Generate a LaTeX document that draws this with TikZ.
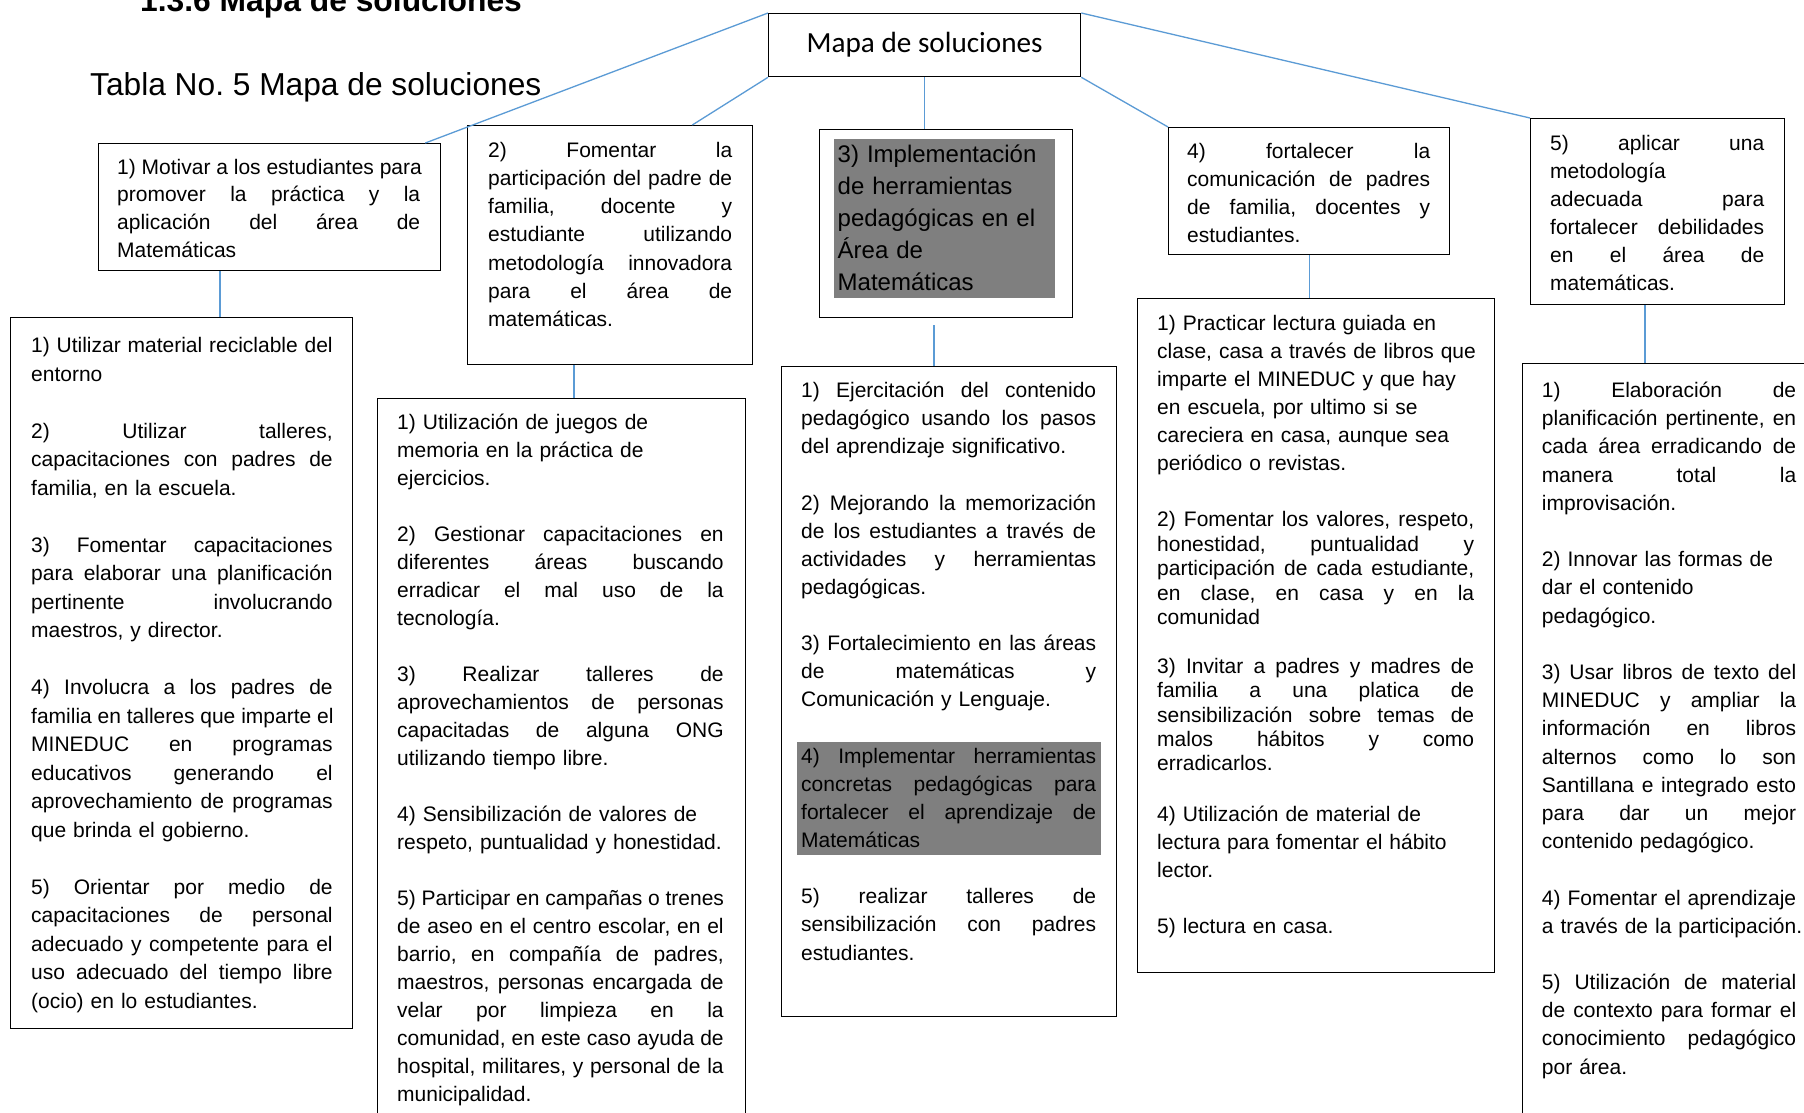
\documentclass[tikz,border=0pt]{standalone}
\usepackage{fontspec}
\setmainfont{Liberation Sans}
\newfontfamily\calibri{Carlito}
\usetikzlibrary{calc}
\definecolor{linkblue}{HTML}{5B9BD5}
\definecolor{hlgray}{HTML}{7F7F7F}
\hbadness=10000
\hfuzz=30pt
\frenchspacing
\newcommand\Lj[1]{\hbox to\hsize{\spaceskip=\fontdimen2\font plus 1fil\relax #1}\par}
\newcommand\Lr[1]{\hbox to\hsize{#1\hfil}\par}
\newcommand\Lb{\vskip\baselineskip}
\begin{document}
\begin{tikzpicture}[x=1pt,y=-1pt,
  frame/.style={draw=black,line width=1.3pt,rectangle,inner sep=0pt,anchor=north west},
  hl/.style={fill=hlgray,draw=none,rectangle,inner sep=0pt,anchor=north west},
  link/.style={draw=linkblue,line width=1.3pt},
  txt/.style={anchor=base west,inner sep=0pt,font=\frenchspacing\fontsize{21}{#1}\selectfont},
]
\path[use as bounding box] (0,0) rectangle (1804,1112);
\clip (0,0) rectangle (1804,1112);
\fill[white] (0,0) rectangle (1804,1112);

% titles
\node[anchor=base west,inner sep=0pt,font=\bfseries\fontsize{31.8}{38}\selectfont] (heading) at (140,11.5) {1.3.6 Mapa de soluciones};
\node[anchor=base west,inner sep=0pt,font=\fontsize{31.7}{38}\selectfont] (tabla) at (90,95) {Tabla No.\ 5 Mapa de soluciones};

% root
\node[frame,minimum width=312,minimum height=63,font=\calibri\fontsize{29.2}{35}\selectfont] (root) at (768,13) {Mapa de soluciones};

% level 1 frames
\node[frame,minimum width=342,minimum height=127] (b1) at (98,143) {};
\node[frame,minimum width=285,minimum height=239] (b2) at (467,125) {};
\node[frame,minimum width=253,minimum height=188] (b3) at (819,129) {};
\node[hl,minimum width=221,minimum height=159] (b3hl) at (834,139) {};
\node[frame,minimum width=281,minimum height=127] (b4) at (1168,127) {};
\node[frame,minimum width=254,minimum height=186] (b5) at (1530,118) {};

% level 2 frames
\node[frame,minimum width=342,minimum height=711] (c1) at (10,317) {};
\node[frame,minimum width=368,minimum height=760] (c2) at (377,398) {};
\node[frame,minimum width=335,minimum height=650] (c3) at (781,366) {};
\node[hl,minimum width=304,minimum height=113] (c3hl) at (797,742) {};
\node[frame,minimum width=357,minimum height=674] (c4) at (1137,298) {};
\node[frame,minimum width=320,minimum height=800] (c5) at (1522,363) {};

% level 1 texts
\node[txt=27.6,text width=303] (b1t) at (117,174.3) {\Lj{1) Motivar a los estudiantes para}
\Lj{promover la práctica y la}
\Lj{aplicación del área de}
\Lr{Matemáticas}};

\node[txt=28.2,text width=244] (b2t) at (488,157.3) {\Lj{2) Fomentar la}
\Lj{participación del padre de}
\Lj{familia, docente y}
\Lj{estudiante utilizando}
\Lj{metodología innovadora}
\Lj{para el área de}
\Lr{matemáticas.}};

\node[anchor=base west,inner sep=0pt,text width=215,font=\fontsize{24}{31.8}\selectfont] (b3t) at (837.5,162.8) {\Lr{3) Implementación}
\Lr{de herramientas}
\Lr{pedagógicas en el}
\Lr{Área de}
\Lr{Matemáticas}};

\node[txt=28,text width=243] (b4t) at (1187,158.3) {\Lj{4) fortalecer la}
\Lj{comunicación de padres}
\Lj{de familia, docentes y}
\Lr{estudiantes.}};

\node[txt=28,text width=214] (b5t) at (1550,150.3) {\Lj{5) aplicar una}
\Lr{metodología}
\Lj{adecuada para}
\Lj{fortalecer debilidades}
\Lj{en el área de}
\Lr{matemáticas.}};

% level 2 texts
\node[txt=28.5,text width=301.5] (c1t) at (31,352.5) {\Lj{1) Utilizar material reciclable del}
\Lr{entorno}
\Lb
\Lj{2) Utilizar talleres,}
\Lj{capacitaciones con padres de}
\Lr{familia, en la escuela.}
\Lb
\Lj{3) Fomentar capacitaciones}
\Lj{para elaborar una planificación}
\Lj{pertinente involucrando}
\Lr{maestros, y director.}
\Lb
\Lj{4) Involucra a los padres de}
\Lj{familia en talleres que imparte el}
\Lj{MINEDUC en programas}
\Lj{educativos generando el}
\Lj{aprovechamiento de programas}
\Lr{que brinda el gobierno.}
\Lb
\Lj{5) Orientar por medio de}
\Lj{capacitaciones de personal}
\Lj{adecuado y competente para el}
\Lj{uso adecuado del tiempo libre}
\Lr{(ocio) en lo estudiantes.}};

\node[txt=28,text width=326.5] (c2t) at (397,429.5) {\Lr{1) Utilización de juegos de}
\Lr{memoria en la práctica de}
\Lr{ejercicios.}
\Lb
\Lj{2) Gestionar capacitaciones en}
\Lj{diferentes áreas buscando}
\Lj{erradicar el mal uso de la}
\Lr{tecnología.}
\Lb
\Lj{3) Realizar talleres de}
\Lj{aprovechamientos de personas}
\Lj{capacitadas de alguna ONG}
\Lr{utilizando tiempo libre.}
\Lb
\Lr{4) Sensibilización de valores de}
\Lr{respeto, puntualidad y honestidad.}
\Lb
\Lj{5) Participar en campañas o trenes}
\Lj{de aseo en el centro escolar, en el}
\Lj{barrio, en compañía de padres,}
\Lj{maestros, personas encargada de}
\Lj{velar por limpieza en la}
\Lj{comunidad, en este caso ayuda de}
\Lj{hospital, militares, y personal de la}
\Lr{municipalidad.}};

\node[txt=28.13,text width=295] (c3t) at (801,397.5) {\Lj{1) Ejercitación del contenido}
\Lj{pedagógico usando los pasos}
\Lr{del aprendizaje significativo.}
\Lb
\Lj{2) Mejorando la memorización}
\Lj{de los estudiantes a través de}
\Lj{actividades y herramientas}
\Lr{pedagógicas.}
\Lb
\Lj{3) Fortalecimiento en las áreas}
\Lj{de matemáticas y}
\Lr{Comunicación y Lenguaje.}
\Lb
\Lj{4) Implementar herramientas}
\Lj{concretas pedagógicas para}
\Lj{fortalecer el aprendizaje de}
\Lr{Matemáticas}
\Lb
\Lj{5) realizar talleres de}
\Lj{sensibilización con padres}
\Lr{estudiantes.}};

\node[txt=28,text width=317] (c4t) at (1157,330.8) {\Lr{1) Practicar lectura guiada en}
\Lr{clase, casa a través de libros que}
\Lr{imparte el MINEDUC y que hay}
\Lr{en escuela, por ultimo si se}
\Lr{careciera en casa, aunque sea}
\Lr{periódico o revistas.}
\Lb
\Lj{2) Fomentar los valores, respeto,}
\baselineskip=24.4pt
\Lj{honestidad, puntualidad y}
\Lj{participación de cada estudiante,}
\Lj{en clase, en casa y en la}
\Lr{comunidad}
\Lb
\Lj{3) Invitar a padres y madres de}
\Lj{familia a una platica de}
\Lj{sensibilización sobre temas de}
\Lj{malos hábitos y como}
\Lr{erradicarlos.}
\vskip 23pt
\baselineskip=28pt
\Lr{4) Utilización de material de}
\Lr{lectura para fomentar el hábito}
\Lr{lector.}
\Lb
\Lr{5) lectura en casa.}};

\node[txt=28.19,text width=254.3] (c5t) at (1541.7,397.6) {\Lj{1) Elaboración de}
\Lj{planificación pertinente, en}
\Lj{cada área erradicando de}
\Lj{manera total la}
\Lr{improvisación.}
\Lb
\Lr{2) Innovar las formas de}
\Lr{dar el contenido}
\Lr{pedagógico.}
\Lb
\Lj{3) Usar libros de texto del}
\Lj{MINEDUC y ampliar la}
\Lj{información en libros}
\Lj{alternos como lo son}
\Lj{Santillana e integrado esto}
\Lj{para dar un mejor}
\Lr{contenido pedagógico.}
\Lb
\Lj{4) Fomentar el aprendizaje}
\Lr{a través de la participación.}
\Lb
\Lj{5) Utilización de material}
\Lj{de contexto para formar el}
\Lj{conocimiento pedagógico}
\Lr{por área.}};

% connectors
\draw[link] (root.north west) -- ($(b1.north east)+(-16,0)$);
\draw[link] (root.south west) -- ($(b2.north east)+(-61,0)$);
\draw[link] (root.south) -- (root.south |- b3.north);
\draw[link] (root.south east) -- (b4.north west);
\draw[link] (root.north east) -- (b5.north west);

\draw[link] ($(b1.south west)+(122,0)$) -- ($(c1.north west)+(210,0)$);
\draw[link] ($(b2.south west)+(107,0)$) -- ($(c2.north west)+(197,0)$);
\draw[link,shorten <=7pt] ($(b3.south west)+(115,0)$) -- ($(c3.north west)+(153,0)$);
\draw[link] (b4.south) -- (b4.south |- c4.north);
\draw[link] ($(b5.south west)+(115,0)$) -- ($(c5.north west)+(123,0)$);
\end{tikzpicture}
\end{document}
